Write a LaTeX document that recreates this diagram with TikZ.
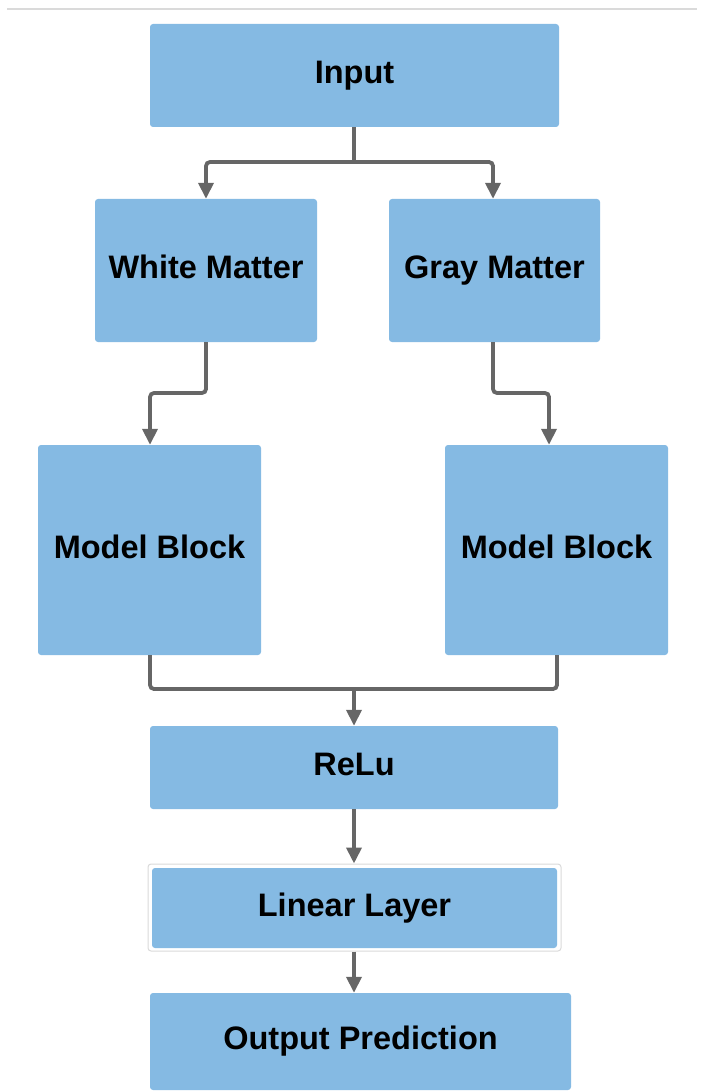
\documentclass[tikz,border=0pt]{standalone}
\usepackage{fontspec}
\setmainfont{Liberation Sans}
\usetikzlibrary{arrows.meta}
\definecolor{boxblue}{HTML}{85BAE3}
\definecolor{linkgray}{HTML}{666666}
\definecolor{rulegray}{HTML}{DADADA}
\tikzset{
  block/.style={fill=boxblue, draw=none, rounded corners=3pt, inner sep=0pt,
    font=\fontsize{32.5}{39}\selectfont\bfseries, text=black,
    text height=23.5pt, text depth=6.8pt},
  link/.style={draw=linkgray, line width=3.8pt, rounded corners=4pt,
    -{Triangle[length=16pt,width=15pt]}},
  plain/.style={draw=linkgray, line width=3.8pt, rounded corners=4pt},
}
\newcommand{\blk}[6]{%
  \node[block, minimum width=#4-#2, minimum height=#5-#3] (#1) at ({(#2+#4)/2},{(#3+#5)/2}) {#6};}
\begin{document}
\begin{tikzpicture}[x=1pt,y=-1pt]
\useasboundingbox (0,0) rectangle (708,1091);
% thin rule along the top
\draw[rulegray, line width=1.5pt] (7,9) -- (697,9);

% blocks
\blk{input}{150}{24}{559}{127}{Input}
\blk{white}{95}{199}{317}{342}{White Matter}
\blk{gray}{389}{199}{600}{342}{Gray Matter}
\blk{mbl}{38}{445}{261}{655}{Model Block}
\blk{mbr}{445}{445}{668}{655}{Model Block}
\blk{relu}{150}{726}{558}{809}{ReLu}
% framed linear layer
\node[draw=rulegray, line width=1pt, fill=white, rounded corners=3pt,
  minimum width=413, minimum height=87, inner sep=0pt] (linframe) at (354.5,907.5) {};
\blk{linear}{152}{868}{557}{948}{Linear Layer}
\blk{output}{150}{993}{571}{1090}{Output Prediction}

% split from input
\coordinate (split) at (354,162);
\draw[plain] (split |- input.south) -- (split);
\draw[link] (split) -- (206,162) -- (206,0 |- white.north);
\draw[link] (split) -- (493,162) -- (493,0 |- gray.north);

% matter branches into model blocks
\draw[link] (206,0 |- white.south) -- (206,393) -- (150,393) -- (150,0 |- mbl.north);
\draw[link] (493,0 |- gray.south) -- (493,393) -- (549,393) -- (549,0 |- mbr.north);

% merge into ReLu
\coordinate (merge) at (354,689);
\draw[plain] (150,0 |- mbl.south) -- (150,689) -- (merge);
\draw[plain] (557,0 |- mbr.south) -- (557,689) -- (merge);
\draw[link] (merge) -- (merge |- relu.north);

% tail of the chain
\draw[link] (354,0 |- relu.south) -- (354,0 |- linframe.north);
\draw[link] (354,0 |- linframe.south) -- (354,0 |- output.north);
\end{tikzpicture}
\end{document}
